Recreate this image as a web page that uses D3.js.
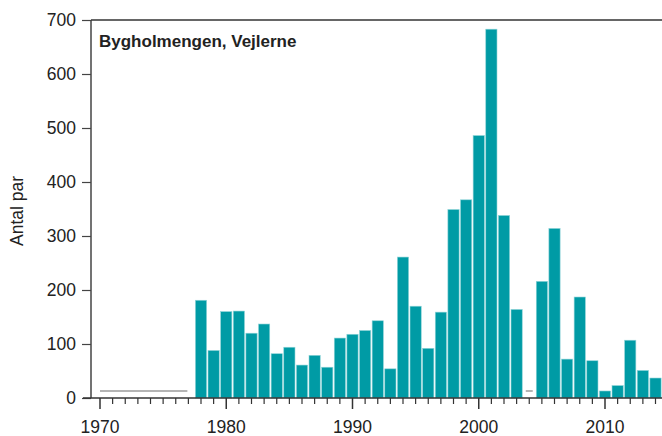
<!DOCTYPE html>
<html>
<head>
<meta charset="utf-8">
<script src="https://cdn.jsdelivr.net/npm/d3@7"></script>
<style>
  body { margin: 0; background: #fff; }
  svg { display: block; font-family: "Liberation Sans", Arial, sans-serif; }
</style>
</head>
<body>
<script>
// years with counts (pairs)
var years = [1978, 1979, 1980, 1981, 1982, 1983, 1984, 1985, 1986, 1987,
             1988, 1989, 1990, 1991, 1992, 1993, 1994, 1995, 1996, 1997,
             1998, 1999, 2000, 2001, 2002, 2003, 2005, 2006, 2007, 2008,
             2009, 2010, 2011, 2012, 2013, 2014];
var pairs = [181, 88, 160, 161, 120, 137, 82, 94, 61, 79,
             57, 111, 118, 125, 143, 54, 261, 170, 92, 159,
             349, 367, 486, 683, 338, 164, 216, 314, 72, 187,
             69, 13, 23, 107, 51, 37];
// gray "not counted / few" marks
var grayStart = [1970, 2004];
var grayEnd = [1977, 2004];
var grayValue = [13, 13];

var yTicks = [0, 100, 200, 300, 400, 500, 600, 700];
var decadeTicks = [1970, 1980, 1990, 2000, 2010];
var title = "Bygholmengen, Vejlerne";
var yLabel = "Antal par";

var width = 662, height = 436;
var plotLeft = 91, plotRight = 662, plotTop = 20, plotBottom = 398;

var svg = d3.select("body").append("svg")
    .attr("width", width).attr("height", height);

var x = d3.scaleLinear().domain([1970, 2010]).range([100, 605]);
var y = d3.scaleLinear().domain([0, 700]).range([plotBottom, plotTop]);
var step = x(1971) - x(1970);
var barW = step - 1.4;

// bars
svg.append("g").selectAll("rect")
    .data(years)
    .enter()
    .append("rect")
    .attr("x", function(d) { return x(d) - barW / 2; })
    .attr("width", barW)
    .attr("y", function(d, i) { return y(pairs[i]); })
    .attr("height", function(d, i) { return y(0) - y(pairs[i]); })
    .style("fill", "#009ba5")
    .style("stroke", "#8fd4d8")
    .style("stroke-width", 0.6);

// gray lines
svg.append("g").selectAll("line")
    .data(grayStart)
    .enter()
    .append("line")
    .attr("x1", function(d, i) { return d === grayEnd[i] ? x(d) - 3.5 : x(d); })
    .attr("x2", function(d, i) { return d === grayEnd[i] ? x(d) + 3.5 : x(grayEnd[i]) - 1; })
    .attr("y1", function(d, i) { return y(grayValue[i]); })
    .attr("y2", function(d, i) { return y(grayValue[i]); })
    .style("stroke", "#b4b4b4")
    .style("stroke-width", 2);

// y axis
var yAxis = d3.axisLeft(y).tickValues(yTicks).tickSize(9).tickPadding(6);
var gy = svg.append("g").attr("transform", "translate(" + plotLeft + ",0)").call(yAxis);
gy.select(".domain").remove();
gy.append("line").attr("x1", 0).attr("x2", 0).attr("y1", plotTop).attr("y2", plotBottom)
    .style("stroke", "#444").style("stroke-width", 1.5);
gy.selectAll(".tick line").style("stroke", "#444").style("stroke-width", 1.2);
gy.selectAll(".tick text").style("font-size", "17.5px").style("fill", "#222");

// top frame line
svg.append("line").attr("x1", plotLeft).attr("x2", plotRight).attr("y1", plotTop).attr("y2", plotTop)
    .style("stroke", "#333").style("stroke-width", 1.5);

// x axis: minor ticks every year, major every decade
var allYears = d3.range(1970, 2015);
var gx = svg.append("g").attr("transform", "translate(0," + plotBottom + ")");
gx.append("line").attr("x1", plotLeft - 8).attr("x2", plotRight).attr("y1", 0).attr("y2", 0)
    .style("stroke", "#333").style("stroke-width", 1.5);
gx.selectAll("line.minor")
    .data(allYears)
    .enter()
    .append("line")
    .attr("class", "minor")
    .attr("x1", function(d) { return x(d); })
    .attr("x2", function(d) { return x(d); })
    .attr("y1", 0)
    .attr("y2", function(d) { return d % 10 === 0 ? 11 : 6; })
    .style("stroke", "#333")
    .style("stroke-width", function(d) { return d % 10 === 0 ? 1.5 : 1.2; });
gx.selectAll("text")
    .data(decadeTicks)
    .enter()
    .append("text")
    .attr("x", function(d) { return x(d); })
    .attr("y", 35)
    .attr("text-anchor", "middle")
    .style("font-size", "17.5px")
    .style("fill", "#222")
    .text(function(d) { return d; });

// title
svg.append("text")
    .attr("x", 99).attr("y", 47)
    .style("font-size", "17px").style("font-weight", "bold").style("fill", "#222")
    .text(title);

// y label
svg.append("text")
    .attr("transform", "translate(23,211) rotate(-90)")
    .attr("text-anchor", "middle")
    .style("font-size", "17.5px").style("fill", "#222")
    .text(yLabel);
</script>
</body>
</html>
